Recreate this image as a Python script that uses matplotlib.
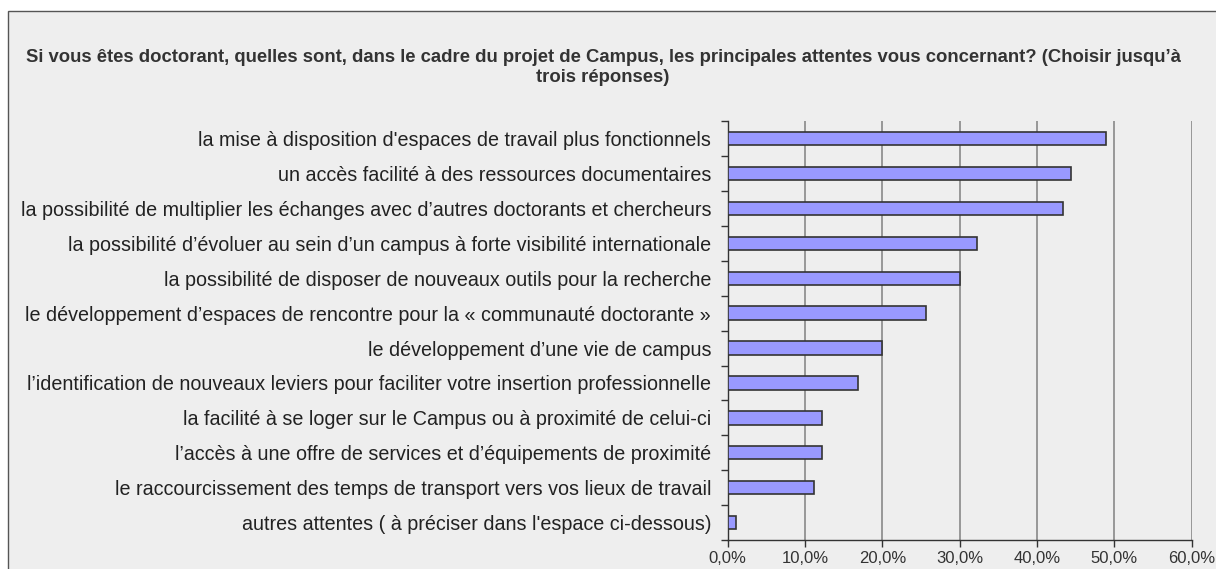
import matplotlib
matplotlib.use("Agg")
import matplotlib.pyplot as plt
from matplotlib.patches import Rectangle
from matplotlib.ticker import FixedLocator, FuncFormatter

plt.rcParams['font.family'] = ['Liberation Sans', 'DejaVu Sans']

categories = [
    "la mise à disposition d'espaces de travail plus fonctionnels",
    "un accès facilité à des ressources documentaires",
    "la possibilité de multiplier les échanges avec d’autres doctorants et chercheurs",
    "la possibilité d’évoluer au sein d’un campus à forte visibilité internationale",
    "la possibilité de disposer de nouveaux outils pour la recherche",
    "le développement d’espaces de rencontre pour la « communauté doctorante »",
    "le développement d’une vie de campus",
    "l’identification de nouveaux leviers pour faciliter votre insertion professionnelle",
    "la facilité à se loger sur le Campus ou à proximité de celui-ci",
    "l’accès à une offre de services et d’équipements de proximité",
    "le raccourcissement des temps de transport vers vos lieux de travail",
    "autres attentes ( à préciser dans l'espace ci-dessous)",
]
values = [48.9, 44.4, 43.4, 32.2, 30.0, 25.6, 20.0, 16.8, 12.2, 12.2, 11.1, 1.1]
xticks = [0, 10, 20, 30, 40, 50, 60]
title = ("Si vous êtes doctorant, quelles sont, dans le cadre du projet de Campus, les principales attentes vous concernant? (Choisir jusqu’à\n"
         "trois réponses)")

W, H = 1216, 569
fig = plt.figure(figsize=(W / 100, H / 100), dpi=100)
fig.patch.set_facecolor('white')
bg = Rectangle((8 / W, -0.1), 1.2, 1 - 11 / H + 0.1, transform=fig.transFigure,
               facecolor='#EEEEEE', edgecolor='#555555', linewidth=1, zorder=-10)
fig.patches.append(bg)

ax = fig.add_axes([727.7 / W, 1 - 540 / H, (1191.7 - 727.7) / W, (540 - 121.3) / H])
ax.set_facecolor('none')
ypos = list(range(len(categories)))
ax.barh(ypos, values, height=0.385, color='#9999FF', edgecolor='#333333', linewidth=1.2, zorder=3)
ax.set_xlim(0, 60)
ax.set_ylim(len(categories) - 0.5, -0.5)

ax.xaxis.set_major_locator(FixedLocator(xticks))
ax.xaxis.set_major_formatter(FuncFormatter(lambda v, p: f"{v:.1f}%".replace('.', ',')))
ax.tick_params(axis='x', length=5, width=1, color='#333333', labelsize=12, labelcolor='#333333', pad=3)
ax.grid(axis='x', color='#808080', linewidth=1.1, zorder=1)

ax.yaxis.set_major_locator(FixedLocator([i - 0.5 for i in range(len(categories) + 1)]))
ax.yaxis.set_major_formatter(FuncFormatter(lambda v, p: ""))
ax.yaxis.set_minor_locator(FixedLocator(ypos))
ax.set_yticklabels(categories, minor=True)
ax.tick_params(axis='y', which='major', length=5, width=1, color='#333333')
ax.tick_params(axis='y', which='minor', length=0, labelsize=14.2, labelcolor='#222222', pad=12)

for s in ['top', 'right']:
    ax.spines[s].set_visible(False)
for s in ['left', 'bottom']:
    ax.spines[s].set_color('#333333')
    ax.spines[s].set_linewidth(1)

fig.text(603 / W, 1 - 67.5 / H, title, ha='center', va='center', fontsize=13.3, fontweight='bold',
         color='#333333', linespacing=1.3)

fig.savefig('out.png', dpi=100)
